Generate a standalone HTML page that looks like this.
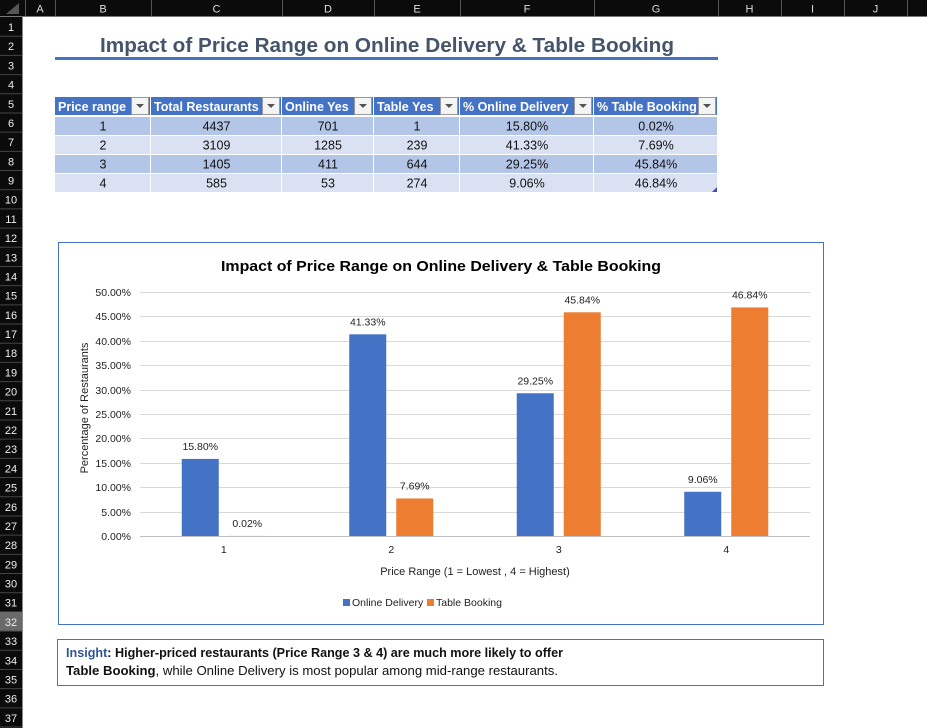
<!DOCTYPE html>
<html><head><meta charset="utf-8"><style>
html,body{margin:0;padding:0;background:#fff;}
svg{display:block;font-family:"Liberation Sans",Arial,sans-serif;}
</style></head><body>
<svg id="root" width="927" height="728" viewBox="0 0 927 728" xmlns="http://www.w3.org/2000/svg">
  <rect x="0" y="0" width="927" height="728" fill="#fff"/>
  <g id="colhdr"></g>
  <g id="rowhdr"></g>

  <text x="387" y="52" text-anchor="middle" font-size="20" font-weight="bold" fill="#44546A" textLength="574" lengthAdjust="spacingAndGlyphs">Impact of Price Range on Online Delivery &amp; Table Booking</text>
  <rect x="55" y="57" width="663" height="3" fill="#4472C4"/>

  <g id="table"></g>

  <rect x="58.5" y="242.5" width="765" height="382" fill="#fff" stroke="#4472C4" stroke-width="1"/>
  <text x="441" y="271" text-anchor="middle" font-size="15" font-weight="bold" fill="#000" textLength="440" lengthAdjust="spacingAndGlyphs">Impact of Price Range on Online Delivery &amp; Table Booking</text>
  <g id="chart"></g>
  <text transform="translate(88,408) rotate(-90)" text-anchor="middle" font-size="11" fill="#222">Percentage of Restaurants</text>
  <text x="475" y="575" text-anchor="middle" font-size="11" fill="#222">Price Range (1 = Lowest , 4 = Highest)</text>
  <g>
    <rect x="343" y="599" width="7" height="7" fill="#4472C4"/>
    <text x="352" y="606" font-size="10.5" fill="#222">Online Delivery</text>
    <rect x="427" y="599" width="7" height="7" fill="#ED7D31"/>
    <text x="436" y="606" font-size="10.5" fill="#222">Table Booking</text>
  </g>

  <rect x="57.5" y="639.5" width="766" height="46" fill="#fff" stroke="#4472C4" stroke-width="1"/>
  <text x="66" y="657" font-size="12.5" fill="#111" textLength="497" lengthAdjust="spacingAndGlyphs"><tspan font-weight="bold" fill="#2F5597">Insight</tspan><tspan font-weight="bold">: Higher-priced restaurants (Price Range 3 &amp; 4) are much more likely to offer</tspan></text>
  <text x="66" y="675" font-size="12.5" fill="#111" textLength="492" lengthAdjust="spacingAndGlyphs"><tspan font-weight="bold">Table Booking</tspan>, while Online Delivery is most popular among mid-range restaurants.</text>
</svg>
<script>
const NS='http://www.w3.org/2000/svg';
function mk(parent,tag,attrs,text){const e=document.createElementNS(NS,tag);for(const k in attrs)e.setAttribute(k,attrs[k]);if(text!==undefined)e.textContent=text;parent.appendChild(e);return e;}

// ---- chart data ----
const categories=['1','2','3','4'];
const onlineDelivery=[15.80,41.33,29.25,9.06];
const tableBooking=[0.02,7.69,45.84,46.84];
const yTicks=[0,5,10,15,20,25,30,35,40,45,50];
const onlineLabels=['15.80%','41.33%','29.25%','9.06%'];
const tableLabels=['0.02%','7.69%','45.84%','46.84%'];

// ---- spreadsheet headers ----
const colhdr=document.getElementById('colhdr');
mk(colhdr,'rect',{x:0,y:0,width:927,height:17,fill:'#0b0b0b'});
mk(colhdr,'polygon',{points:'6,14 19,14 19,3',fill:'#555'});
const colEdges=[25,55,151,282,374,460,594,718,781,844,907,927];
const colNames=['A','B','C','D','E','F','G','H','I','J',''];
for(let i=0;i<colNames.length;i++){
  const x0=colEdges[i],x1=colEdges[i+1];
  mk(colhdr,'line',{x1:x0+0.5,y1:0,x2:x0+0.5,y2:17,stroke:'#555'});
  if(colNames[i]){const t=mk(colhdr,'text',{x:(x0+x1)/2,y:12.5,'text-anchor':'middle','font-size':11,fill:'#ddd'},colNames[i]);
  
  }
}
mk(colhdr,'line',{x1:0,y1:16.5,x2:927,y2:16.5,stroke:'#777'});
const rowhdr=document.getElementById('rowhdr');
mk(rowhdr,'rect',{x:0,y:17,width:22,height:711,fill:'#0b0b0b'});
mk(rowhdr,'line',{x1:22.5,y1:17,x2:22.5,y2:728,stroke:'#888'});
const rowH=19.19;
for(let r=1;r<=37;r++){
  const top=17+(r-1)*rowH;
  if(r===32) mk(rowhdr,'rect',{x:0,y:top,width:22,height:rowH,fill:'#6a6a6a'});
  mk(rowhdr,'line',{x1:0,y1:top+rowH,x2:22,y2:top+rowH,stroke:'#444'});
  const t=mk(rowhdr,'text',{x:11,y:top+14,'text-anchor':'middle','font-size':11,fill:'#eee'},String(r));
  
  
}

// ---- table ----
const table=document.getElementById('table');
const tCols=[55,151,282,374,460,594,718];
const headers=['Price range','Total Restaurants','Online Yes','Table Yes','% Online Delivery','% Table Booking'];
const tRows=[
 ['1','4437','701','1','15.80%','0.02%'],
 ['2','3109','1285','239','41.33%','7.69%'],
 ['3','1405','411','644','29.25%','45.84%'],
 ['4','585','53','274','9.06%','46.84%']];
const rowTops=[97,117,136,155,174,193];
for(let c=0;c<6;c++){
  const x0=tCols[c],x1=tCols[c+1];
  const h=mk(table,'rect',{x:x0,y:rowTops[0],width:x1-x0-1,height:18,fill:'#4472C4'});
  
  
  mk(table,'text',{x:x0+3,y:rowTops[0]+14,'font-size':12.5,'font-weight':'bold',fill:'#fff'},headers[c]);
  const b=mk(table,'g',{});
  
  
  mk(b,'rect',{x:x1-19.5,y:rowTops[0]+0.5,width:17,height:17,fill:'#f4f4f4',stroke:'#999'});
  mk(b,'polygon',{points:`${x1-15},${rowTops[0]+7} ${x1-7},${rowTops[0]+7} ${x1-11},${rowTops[0]+11}`,fill:'#555'});
  for(let r=0;r<4;r++){
    const y0=rowTops[r+1];
    const cell=mk(table,'rect',{x:x0,y:y0,width:x1-x0-1,height:rowTops[r+2]-y0-1,fill:r%2===0?'#B4C6E7':'#D9E1F2'});
    
    
    mk(table,'text',{x:(x0+x1)/2,y:y0+13.5,'text-anchor':'middle','font-size':12.5,fill:'#111'},tRows[r][c]);
  }
}
mk(table,'polygon',{points:'712,192 717,192 717,187',fill:'#3F51B5'});

// ---- chart ----
const chart=document.getElementById('chart');
const plotL=140,plotR=810,y0px=536,y50px=292;
const yScale=v=>y0px-(v-yTicks[0])/(yTicks[yTicks.length-1]-yTicks[0])*(y0px-y50px);
const band=(plotR-plotL)/categories.length;
const xCenter=i=>plotL+band*(i+0.5);
const barW=37,gap=5;
yTicks.forEach(t=>{
  const y=Math.round(yScale(t))+0.5;
  const g=mk(chart,'line',{x1:plotL,y1:y,x2:plotR,y2:y,stroke:t===0?'#bfbfbf':'#d9d9d9'});
  
  
  const lb=mk(chart,'text',{x:131,y:y+3.5,'text-anchor':'end','font-size':10.5,fill:'#222'},t.toFixed(2)+'%');
  
  
});
categories.forEach((c,i)=>{
  const cx=xCenter(i);
  const lb=mk(chart,'text',{x:cx,y:553,'text-anchor':'middle','font-size':10.5,fill:'#222'},c);
  
  
  const series=[[onlineDelivery,onlineLabels,'#4472C4',cx-gap-barW,'online'],[tableBooking,tableLabels,'#ED7D31',cx+gap,'table']];
  series.forEach(([vals,labs,col,x,key])=>{
    const y=yScale(vals[i]);
    const b=mk(chart,'rect',{x:x,y:y,width:barW,height:Math.max(y0px-y,0.01),fill:col});
    
    
    const t=mk(chart,'text',{x:x+barW/2,y:y-9,'text-anchor':'middle','font-size':10.5,fill:'#222'},labs[i]);
    
    
  });
});
</script>
</body></html>
